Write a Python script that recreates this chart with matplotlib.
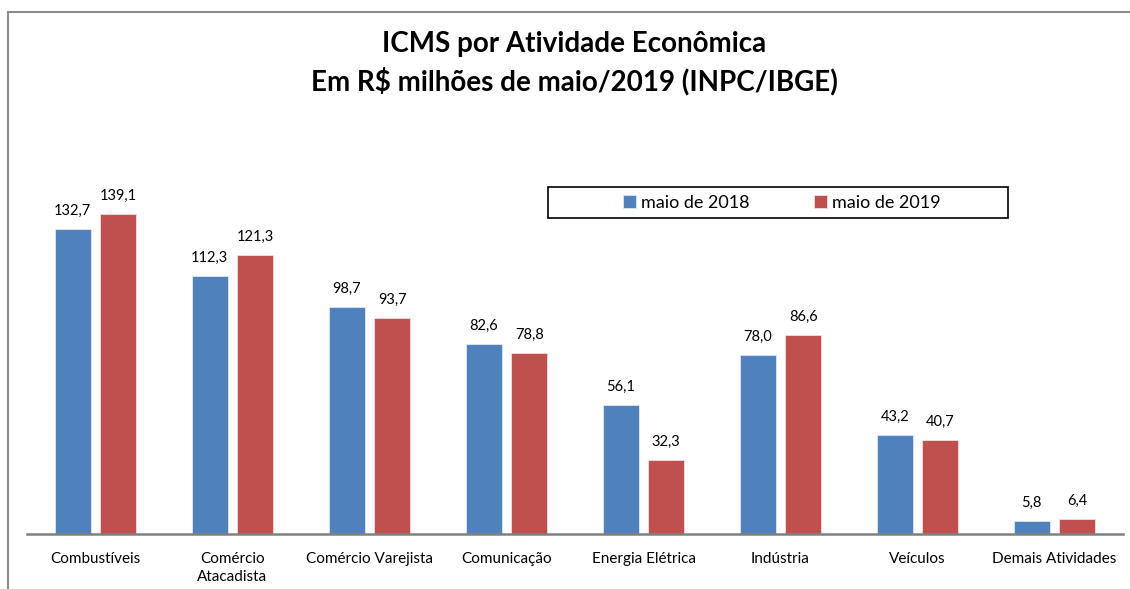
import matplotlib.pyplot as plt
from matplotlib.patches import Rectangle
import numpy as np

categorias = ['Combustíveis', 'Comércio\nAtacadista', 'Comércio Varejista', 'Comunicação',
              'Energia Elétrica', 'Indústria', 'Veículos', 'Demais Atividades']
maio_2018 = [132.7, 112.3, 98.7, 82.6, 56.1, 78.0, 43.2, 5.8]
maio_2019 = [139.1, 121.3, 93.7, 78.8, 32.3, 86.6, 40.7, 6.4]

plt.rcParams['font.family'] = ['Lato', 'DejaVu Sans']

W, H = 1130, 589
fig = plt.figure(figsize=(W / 100, H / 100), dpi=100)
ax = fig.add_axes([27 / W, 55 / H, 1096 / W, 368 / H])

x = np.arange(len(categorias))
w = 0.265
b1 = ax.bar(x - 0.166, maio_2018, w, color='#4F81BD', edgecolor='#dfe8f3', linewidth=0.6, label='maio de 2018')
b2 = ax.bar(x + 0.166, maio_2019, w, color='#C0504D', edgecolor='#f3dede', linewidth=0.6, label='maio de 2019')

for bars, vals in ((b1, maio_2018), (b2, maio_2019)):
    for r, v in zip(bars, vals):
        ax.annotate(f'{v:.1f}'.replace('.', ','), (r.get_x() + r.get_width() / 2, v),
                    xytext=(0, 8), textcoords='offset points', ha='center', va='bottom', fontsize=10.5)

ax.set_xlim(-0.5, len(categorias) - 0.5)
ax.set_ylim(0, 160)
ax.set_yticks([])
ax.set_xticks(x)
ax.set_xticklabels(categorias, fontsize=11, linespacing=1.35)
ax.tick_params(axis='x', length=0, pad=13)
for s in ('top', 'right', 'left'):
    ax.spines[s].set_visible(False)
ax.spines['bottom'].set_color('#808080')
ax.spines['bottom'].set_linewidth(1.8)

# legend box
fig.patches.append(Rectangle((548 / W, 1 - 218 / H), 460 / W, 31 / H, transform=fig.transFigure,
                             fill=False, edgecolor='black', linewidth=1.2))
leg = fig.legend(handles=[b1, b2], ncol=2, loc='center', bbox_to_anchor=(782 / W, 1 - 203 / H),
                 fontsize=13, frameon=False, handlelength=0.7, handleheight=0.7,
                 handletextpad=0.3, columnspacing=3.6)

fig.text(0.508, 1 - 63 / H, 'ICMS por Atividade Econômica\nEm R$ milhões de maio/2019 (INPC/IBGE)',
         ha='center', va='center', fontsize=20, fontweight='bold', linespacing=1.4)

fig.patches.append(Rectangle((8 / W, -0.1), 1.2, 1 - 12 / H + 0.1, transform=fig.transFigure,
                             fill=False, edgecolor='#8c8c8c', linewidth=1.5))

fig.savefig('out.png', dpi=100)
